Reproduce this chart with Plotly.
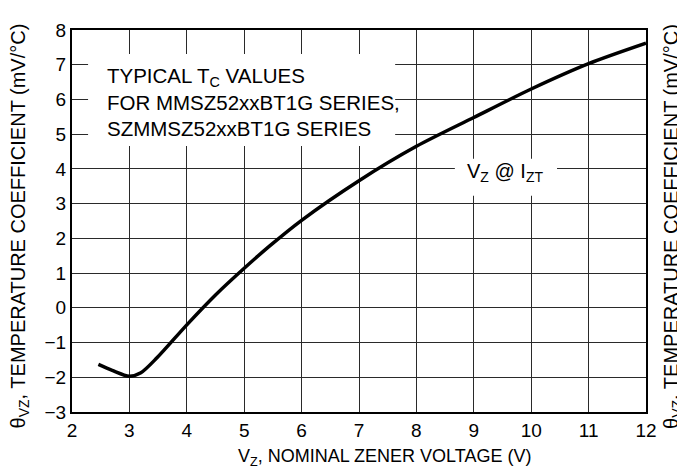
import plotly.graph_objects as go

# Data
vz_nominal = [2.46, 2.7, 3.0, 3.2, 3.48, 4.0, 4.5, 5.0, 5.45, 6.0, 7.0, 8.0, 9.0, 10.0, 11.0, 12.0]
temp_coeff = [-1.63, -1.80, -1.97, -1.87, -1.44, -0.49, 0.37, 1.14, 1.79, 2.52, 3.66, 4.65, 5.48, 6.30, 7.03, 7.62]

x_ticks = [2, 3, 4, 5, 6, 7, 8, 9, 10, 11, 12]
x_tick_labels = [str(v) for v in x_ticks]
y_ticks = [-3, -2, -1, 0, 1, 2, 3, 4, 5, 6, 7, 8]
y_tick_labels = [("\u2212" + str(-v)) if v < 0 else str(v) for v in y_ticks]

FONT = "Liberation Sans, Arial, Helvetica, sans-serif"
y_title = "\u03b8<sub>VZ</sub>, TEMPERATURE COEFFICIENT (mV/\u00b0C)"

fig = go.Figure()
fig.add_trace(go.Scatter(
    x=vz_nominal, y=temp_coeff, mode="lines",
    line=dict(color="black", width=3.5, shape="spline", smoothing=0.8),
    showlegend=False, hoverinfo="skip",
))

axis_common = dict(
    showline=True, mirror=True, linecolor="black", linewidth=2,
    showgrid=True, gridcolor="#2a2a2a", gridwidth=1,
    zeroline=False, ticks="",
    tickfont=dict(family=FONT, size=19, color="black"),
)

fig.update_layout(
    width=677, height=467,
    margin=dict(l=64, r=39, t=20, b=63),
    paper_bgcolor="white", plot_bgcolor="white",
    font=dict(family=FONT, color="black", size=18),
    xaxis=dict(range=[2, 12], tickvals=x_ticks, ticktext=x_tick_labels, **axis_common),
    yaxis=dict(range=[-3, 8], tickvals=y_ticks, ticktext=y_tick_labels, **axis_common),
    shapes=[
        dict(type="rect", xref="x", yref="y", x0=2.28, x1=7.63, y0=4.66, y1=7.31,
             fillcolor="white", line=dict(width=0), layer="above"),
        dict(type="rect", xref="x", yref="y", x0=8.67, x1=10.45, y0=3.23, y1=4.29,
             fillcolor="white", line=dict(width=0), layer="above"),
    ],
    annotations=[
        dict(xref="x", yref="y", x=2.58, y=5.94, xanchor="left", yanchor="middle",
             align="left", showarrow=False,
             text="TYPICAL T<sub>C</sub> VALUES<br>FOR MMSZ52xxBT1G SERIES,<br>SZMMSZ52xxBT1G SERIES",
             font=dict(family=FONT, size=20.5, color="black")),
        dict(xref="x", yref="y", x=9.55, y=3.9, xanchor="center", yanchor="middle",
             showarrow=False, text="V<sub>Z</sub> @ I<sub>ZT</sub>",
             font=dict(family=FONT, size=20, color="black")),
        dict(xref="paper", yref="paper", x=0.5436, y=-0.12, xanchor="center", yanchor="middle",
             showarrow=False, text="V<sub>Z</sub>, NOMINAL ZENER VOLTAGE (V)",
             font=dict(family=FONT, size=18, color="black")),
        dict(xref="paper", yref="paper", x=-0.0915, y=0.487, xanchor="center", yanchor="middle",
             showarrow=False, textangle=-90, text=y_title,
             font=dict(family=FONT, size=20, color="black")),
        dict(xref="paper", yref="paper", x=1.0470, y=0.487, xanchor="center", yanchor="middle",
             showarrow=False, textangle=-90, text=y_title,
             font=dict(family=FONT, size=20, color="black")),
    ],
)

fig.write_html("out.html")
